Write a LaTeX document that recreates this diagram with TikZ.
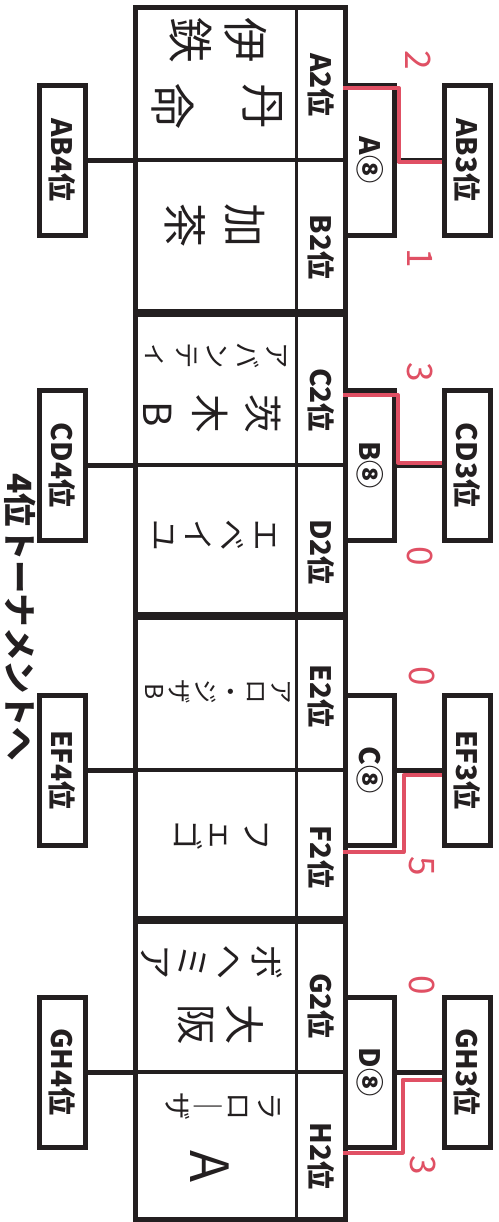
\documentclass[tikz,border=0pt]{standalone}
\usepackage{fontspec}
\setmainfont{Noto Sans CJK JP}
\usetikzlibrary{positioning}
\definecolor{ink}{RGB}{35,31,32}
\definecolor{pen}{RGB}{224,80,100}

\begin{document}
\begin{tikzpicture}[x=0.2mm, y=-0.2mm,
    frame/.style={draw=ink, line width=1mm},
    rule/.style={draw=ink, line width=0.8mm},
    thinrule/.style={draw=ink, line width=0.55mm},
    box/.style={draw=ink, line width=1mm, fill=white, minimum width=9.2mm,
      minimum height=30mm, inner sep=0pt, text=ink,
      font=\bfseries\fontsize{16}{16}\selectfont},
    qbox/.style={minimum width=9.8mm},
    link/.style={draw=ink, line width=1mm},
    lbl/.style={rotate=-90, inner sep=0pt, text=ink,
      font=\bfseries\fontsize{16}{16}\selectfont},
    hand/.style={rotate=-90, align=center, inner sep=0pt, text=ink},
    score/.style={rotate=-90, inner sep=0pt, text=pen,
      font=\fontsize{20}{20}\selectfont},
    win/.style={draw=pen, line width=0.8mm, line join=round}]
  \useasboundingbox[fill=white] (0,0) rectangle (498,1222);

  % groups: table block, 4th place, quarter final, 3rd place
  \foreach \ytop/\ym/\ybot/\pair/\qf/\up/\dn/\ya/\yb in
      {7/160/311.5/AB/A/A/B/85/247, 314.5/465/614.5/CD/B/C/D/400/552,
       617.5/770/918.5/EF/C/E/F/696/857, 921.5/1072/1219/GH/D/G/H/1006/1156}{
    \draw[frame] (135.5,\ytop) rectangle (345.5,\ybot);
    \draw[rule] (135.5,\ym) -- (345.5,\ym);
    \draw[thinrule] (296.5,\ytop) -- (296.5,\ybot);
    \coordinate (t\pair) at (135.5,\ym);
    \node[lbl] (\up2) at (321,\ya) {\up2位};
    \node[lbl] (\dn2) at (321,\yb) {\dn2位};
    \node[box] (\pair4) at (62.5,\ym) {\rotatebox{-90}{\pair4位}};
    \node[box, qbox] (\qf8) at (370,\ym) {\rotatebox{-90}{\qf⑧}};
    \node[box] (\pair3) at (467.5,\ym) {\rotatebox{-90}{\pair3位}};
    \draw[link] (\pair4) -- (t\pair);
    \draw[link] (\qf8) -- (\pair3);
  }

  % winners
  \draw[win] ([yshift=-1.1mm]A8.north west) -| ([xshift=0.4mm,yshift=-0.4mm]A8.east)
    -- ([yshift=-0.4mm]AB3.west);
  \draw[win] ([yshift=-1.5mm]B8.north west) -| ([xshift=0.2mm,yshift=0.5mm]B8.east)
    -- ([yshift=0.5mm]CD3.west);
  \draw[win] ([yshift=-0.9mm]C8.south west) -| ([xshift=1.3mm,yshift=-1mm]C8.east)
    -- ([yshift=-1mm]EF3.west);
  \draw[win] ([yshift=-0.6mm]D8.south west) -| ([xshift=1.1mm,yshift=-1.5mm]D8.east)
    -- ([yshift=-1.5mm]GH3.west);

  % scores
  \node[score] (sA) at (418,60) {2};
  \node[score] (sB) at (420,258) {1};
  \node[score] (sC) at (420,372) {3};
  \node[score] (sD) at (420,556) {0};
  \node[score] (sE) at (422,676) {0};
  \node[score] (sF) at (422,866) {5};
  \node[score] (sG) at (422,985) {0};
  \node[score] (sH) at (423,1165) {3};

  % team names
  \node[hand, font=\fontsize{26}{31}\selectfont] (nA1) at (218,40) {伊\\鉄};
  \node[hand, font=\fontsize{26}{52}\selectfont] (nA2) at (217,106) {丹\\命};
  \node[hand, font=\fontsize{25}{34}\selectfont] (nB) at (215,225) {加\\茶};
  \node[hand, font=\fontsize{15}{17}\selectfont] (nC1) at (216,356) {ア\\バ\\ン\\テ\\ィ};
  \node[hand, font=\fontsize{22}{30}\selectfont] (nC2) at (212,414) {茨\\木\\B};
  \node[hand, font=\fontsize{18}{19.4}\selectfont] (nD) at (214,535) {エ\\ベ\\イ\\ユ};
  \node[hand, font=\fontsize{14}{14.5}\selectfont] (nE) at (218,692) {ア\\ロ\\・\\ジ\\ザ\\B};
  \node[hand, font=\fontsize{18}{20}\selectfont] (nF) at (221,835) {フ\\ェ\\ゴ};
  \node[hand, font=\fontsize{20}{21}\selectfont] (nG1) at (212,962) {ボ\\ヘ\\ミ\\ア};
  \node[hand, font=\fontsize{23}{27}\selectfont] (nG2) at (221,1025) {大\\阪};
  \node[hand, font=\fontsize{16}{17.6}\selectfont] (nH1) at (223,1107) {ラ\\ロ\\｜\\ザ};
  \node[hand, font=\fontsize{30}{30}\selectfont] (nH2) at (210,1167) {A};

  \node[lbl, font=\bfseries\fontsize{19}{19}\selectfont] (goto4) at (20,617) {4位トーナメントへ};
\end{tikzpicture}
\end{document}
